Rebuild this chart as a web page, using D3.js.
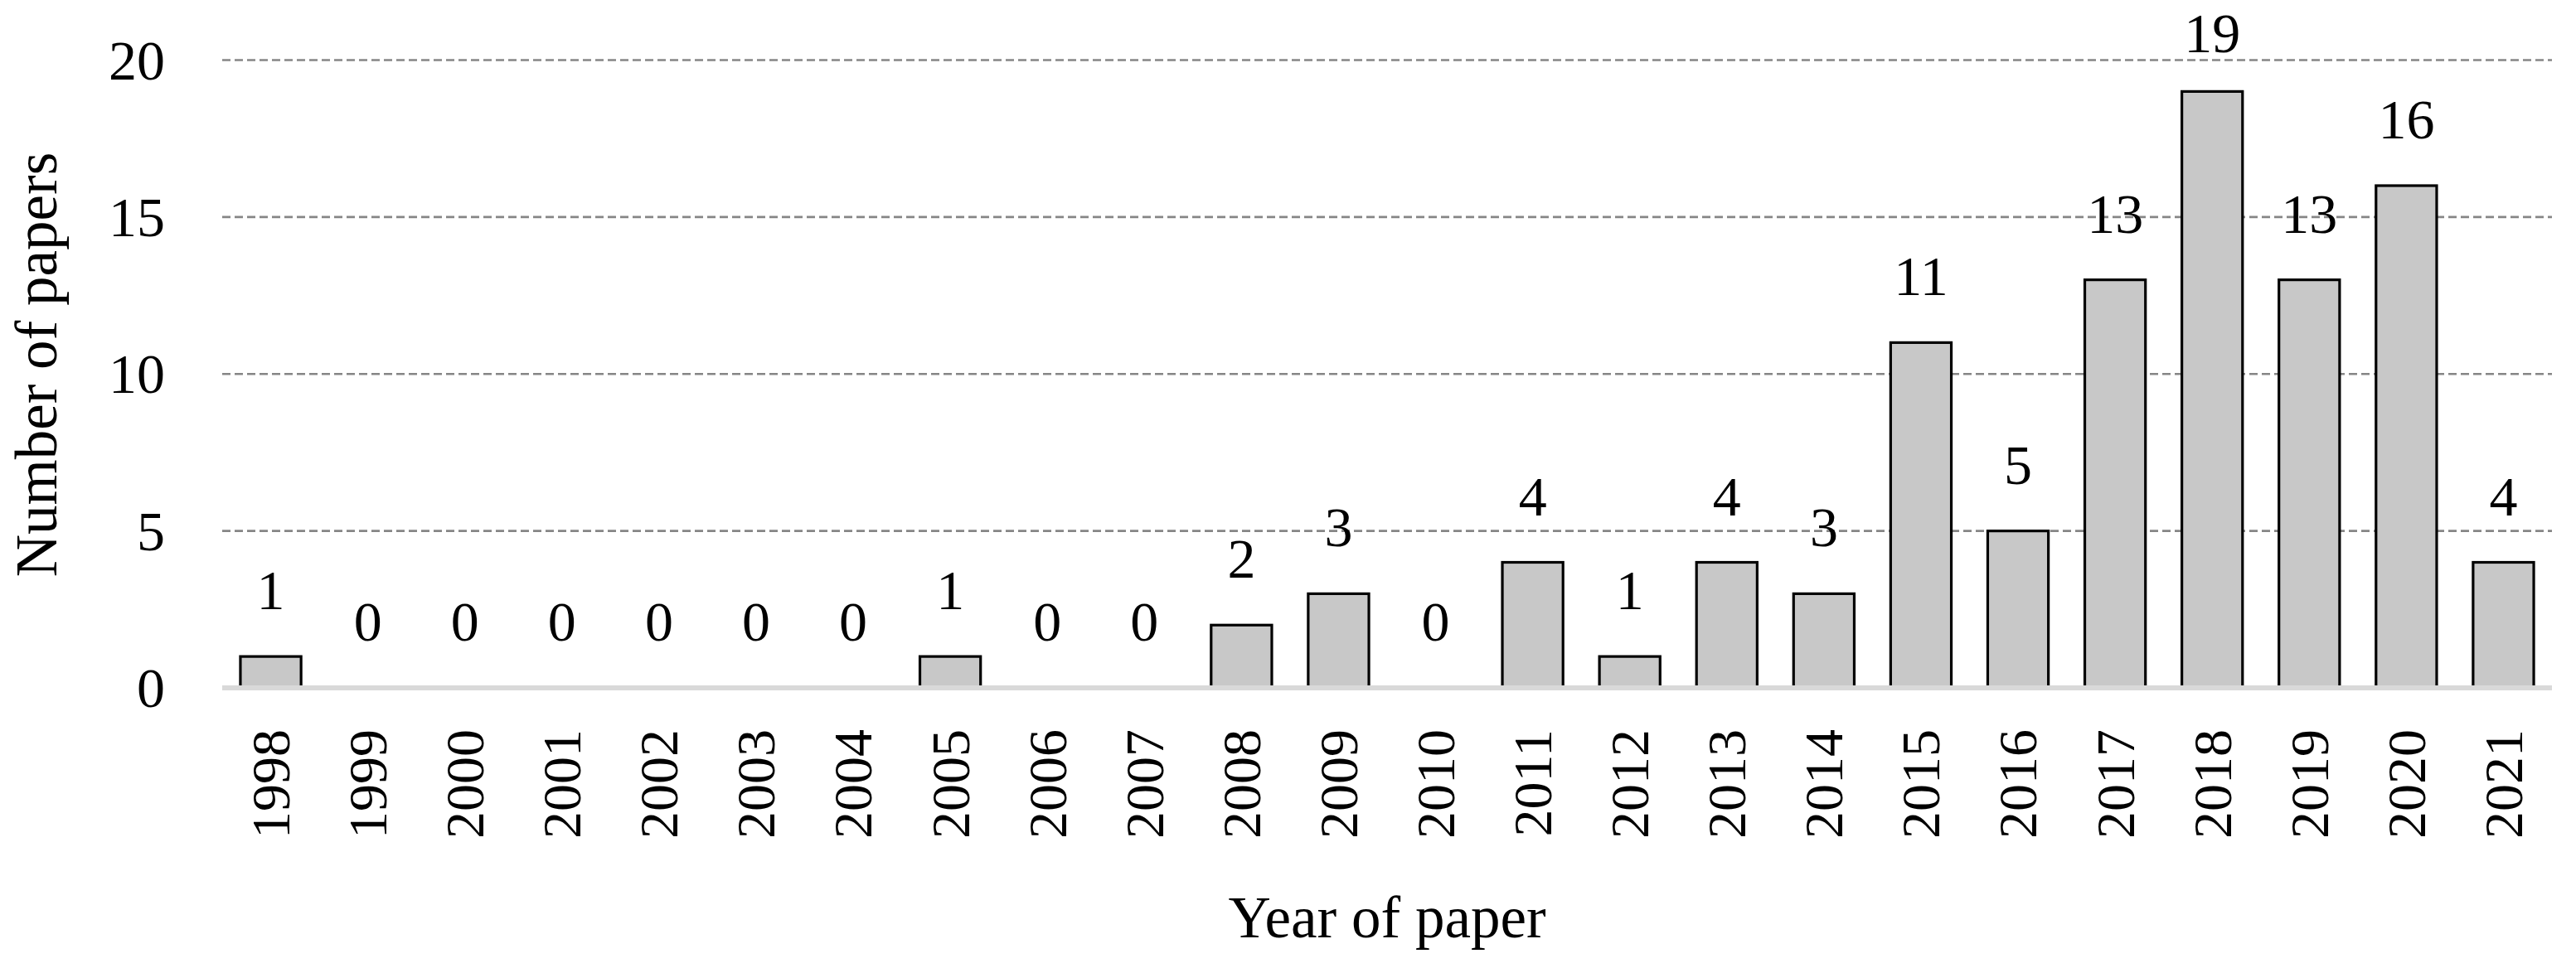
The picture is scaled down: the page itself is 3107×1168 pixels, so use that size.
<!DOCTYPE html>
<html>
<head>
<meta charset="utf-8">
<script src="https://cdn.jsdelivr.net/npm/d3@7"></script>
<style>
  html, body { margin: 0; padding: 0; background: #ffffff; }
  svg { display: block; }
</style>
</head>
<body>
<div id="chart"></div>
<script>
const years = ["1998","1999","2000","2001","2002","2003","2004","2005","2006","2007","2008","2009","2010","2011","2012","2013","2014","2015","2016","2017","2018","2019","2020","2021"];
const papers = [1,0,0,0,0,0,0,1,0,0,2,3,0,4,1,4,3,11,5,13,19,13,16,4];
const yTicks = [0,5,10,15,20];
const xTitle = "Year of paper";
const yTitle = "Number of papers";

(function () {
const W = 3107, H = 1168;
const plotLeft = 268, plotRight = 3078, plotTop = 72.5, plotBottom = 830;
const font = "'Liberation Serif', 'Times New Roman', serif";

const svg = d3.select("#chart").append("svg")
  .attr("width", W).attr("height", H)
  .attr("viewBox", `0 0 ${W} ${H}`);

const x = d3.scaleBand().domain(years).range([plotLeft, plotRight])
  .paddingInner(0.375).paddingOuter(0.1875);
const y = d3.scaleLinear().domain([0, 20]).range([plotBottom, plotTop]);

// gridlines
svg.append("g").selectAll("line")
  .data(yTicks.filter(d => d > 0))
  .join("line")
  .attr("x1", plotLeft).attr("x2", plotRight)
  .attr("y1", d => y(d)).attr("y2", d => y(d))
  .attr("stroke", "#868686")
  .attr("stroke-width", 2.6)
  .attr("stroke-dasharray", "10,5");

// y tick labels
svg.append("g").selectAll("text")
  .data(yTicks)
  .join("text")
  .attr("x", 199).attr("y", d => y(d))
  .attr("dy", "0.34em")
  .attr("text-anchor", "end")
  .attr("font-family", font).attr("font-size", 68)
  .attr("fill", "#000")
  .text(d => d);

// bars
const data = years.map((yr, i) => ({ yr, v: papers[i] }));
svg.append("g").selectAll("rect")
  .data(data.filter(d => d.v > 0))
  .join("rect")
  .attr("x", d => x(d.yr))
  .attr("width", x.bandwidth())
  .attr("y", d => y(d.v))
  .attr("height", d => y(0) - y(d.v))
  .attr("fill", "#c8c8c8")
  .attr("stroke", "#000")
  .attr("stroke-width", 3.2);

// x axis line
svg.append("line")
  .attr("x1", plotLeft).attr("x2", plotRight)
  .attr("y1", y(0)).attr("y2", y(0))
  .attr("stroke", "#d9d9d9").attr("stroke-width", 6);

// value labels (kept inside the chart area at the top)
svg.append("g").selectAll("text")
  .data(data)
  .join("text")
  .attr("x", d => x(d.yr) + x.bandwidth() / 2)
  .attr("y", d => Math.max(y(d.v) - 57, 63))
  .attr("text-anchor", "middle")
  .attr("font-family", font).attr("font-size", 68)
  .attr("fill", "#000")
  .text(d => d.v);

// x tick labels (rotated)
svg.append("g").selectAll("text")
  .data(years)
  .join("text")
  .attr("transform", d => `translate(${x(d) + x.bandwidth() / 2},880) rotate(-90)`)
  .attr("dy", "0.34em")
  .attr("text-anchor", "end")
  .attr("font-family", font).attr("font-size", 66)
  .attr("fill", "#000")
  .text(d => d);

// axis titles
svg.append("text")
  .attr("x", (plotLeft + plotRight) / 2).attr("y", 1131)
  .attr("text-anchor", "middle")
  .attr("font-family", font).attr("font-size", 71)
  .attr("fill", "#000")
  .text(xTitle);

svg.append("text")
  .attr("transform", "translate(68,440) rotate(-90)")
  .attr("text-anchor", "middle")
  .attr("font-family", font).attr("font-size", 71)
  .attr("fill", "#000")
  .text(yTitle);
})();
</script>
</body>
</html>
